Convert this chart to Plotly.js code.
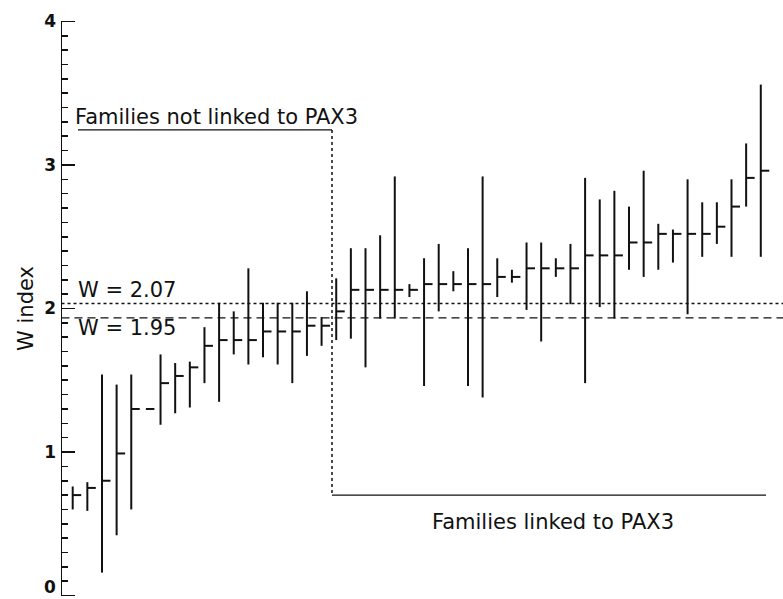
<!DOCTYPE html>
<html>
<head>
<meta charset="utf-8">
<script src="https://cdn.plot.ly/plotly-3.0.1.min.js"></script>
<style>html,body{margin:0;padding:0;background:#fff;}#chart{width:783px;height:599px;}</style>
</head>
<body>
<div id="chart"></div>
<script>
// Families ordered by W index (point estimate) with support interval
const families = [1,2,3,4,5,6,7,8,9,10,11,12,13,14,15,16,17,18,19,20,21,22,23,24,25,26,27,28,29,30,31,32,33,34,35,36,37,38,39,40,41,42,43,44,45,46,47,48];
const wMean = [0.70,0.75,0.80,0.99,1.30,1.30,1.48,1.53,1.59,1.74,1.78,1.78,1.78,1.84,1.84,1.84,1.88,1.88,1.98,2.13,2.13,2.13,2.13,2.13,2.17,2.17,2.17,2.17,2.17,2.22,2.22,2.28,2.28,2.28,2.28,2.37,2.37,2.37,2.46,2.46,2.52,2.52,2.52,2.52,2.57,2.71,2.91,2.96];
const wLow  = [0.60,0.59,0.16,0.42,0.60,1.30,1.19,1.27,1.31,1.48,1.35,1.68,1.61,1.66,1.61,1.48,1.67,1.74,1.78,1.79,1.59,1.93,1.93,2.08,1.46,1.98,2.12,1.46,1.38,2.08,2.18,1.99,1.77,2.22,2.03,1.48,2.01,1.93,2.27,2.22,2.27,2.32,1.96,2.36,2.45,2.36,2.71,2.36];
const wHigh = [0.76,0.79,1.54,1.47,1.54,1.30,1.68,1.62,1.63,1.87,2.04,1.98,2.28,2.04,2.04,2.04,2.12,1.94,2.21,2.42,2.42,2.51,2.92,2.17,2.35,2.45,2.26,2.42,2.92,2.35,2.27,2.46,2.46,2.35,2.45,2.91,2.76,2.82,2.71,2.96,2.59,2.55,2.90,2.74,2.74,2.90,3.15,3.56];
const yTicks = [0,1,2,3,4];
const yTickLabels = ['', '1','2','3','4'];   // '0' drawn as an annotation so it stays inside the picture
const yZeroLabel = '0';
const wDotted = 2.035;   // line labelled W = 2.07 (as drawn)
const wDashed = 1.935;   // line labelled W = 1.95 (as drawn)
const labelDotted = 'W = 2.07';
const labelDashed = 'W = 1.95';
const labelNotLinked = 'Families not linked to PAX3';
const labelLinked = 'Families linked to PAX3';

const ink = '#111';
const FONT = '"DejaVu Sans", Verdana, sans-serif';

// pixel helpers for layout placement (layout only, not data)
const PX0 = 72.7, PXSTEP = 14.64;
const px2x = p => 1 + (p - PX0) / PXSTEP;
const py2y = p => (595.5 - p) / 143.5;
const MT = 20.07, MB = 2.1, ML = 61, H = 599, W = 783;
const px2paper = p => (p - ML) / (W - ML);
const py2paper = p => ((H - MB) - p) / (H - MB - MT);

const rangeTrace = {
  x: families, y: wMean, type: 'scatter', mode: 'markers',
  marker: {size: 1, color: 'rgba(0,0,0,0)'},
  error_y: {type: 'data', symmetric: false,
    array: wHigh.map((h, i) => h - wMean[i]),
    arrayminus: wLow.map((l, i) => wMean[i] - l),
    color: ink, thickness: 2, width: 0},
  hoverinfo: 'skip', showlegend: false
};
const meanTrace = {
  x: families, y: wMean, type: 'scatter', mode: 'markers',
  marker: {size: 1, color: 'rgba(0,0,0,0)'},
  error_x: {type: 'constant', symmetric: false, value: 0.58, valueminus: 0,
    color: ink, thickness: 2, width: 0},
  hoverinfo: 'skip', showlegend: false
};

const xSplit = px2x(332);
const yTop = py2y(130), yBot = py2y(495);
const xLeft = px2x(61.5), xRight = px2x(783);

const layout = {
  width: W, height: H,
  margin: {l: ML, r: 0, t: MT, b: MB},
  paper_bgcolor: '#fff', plot_bgcolor: '#fff',
  showlegend: false,
  xaxis: {range: [px2x(61), px2x(783)], visible: false, fixedrange: true},
  yaxis: {range: [-0.01, 4.01], tickvals: yTicks, ticktext: yTickLabels,
    showline: false, zeroline: false, showgrid: false,
    ticks: 'inside', ticklen: 14, tickwidth: 1.6, tickcolor: ink,
    ticklabelstandoff: 4,
    tickfont: {family: FONT, size: 17, color: ink, weight: 'bold'},
    minor: {dtick: 0.1, ticks: 'inside', ticklen: 7, tickwidth: 1.6, tickcolor: ink, showgrid: false},
    title: {text: 'W index', font: {family: FONT, size: 21, color: ink}, standoff: 4}
  },
  shapes: [
    {type: 'line', xref: 'x', yref: 'y', x0: px2x(61), x1: px2x(61), y0: 0, y1: 4,
     line: {color: ink, width: 2}},
    {type: 'line', xref: 'x', yref: 'y', x0: xLeft, x1: xRight, y0: wDotted, y1: wDotted,
     line: {color: ink, width: 1.3, dash: 'dot'}},
    {type: 'line', xref: 'x', yref: 'y', x0: xLeft, x1: xRight, y0: wDashed, y1: wDashed,
     line: {color: ink, width: 1.3, dash: '8px,5px'}},
    {type: 'line', xref: 'x', yref: 'y', x0: px2x(78), x1: xSplit, y0: yTop, y1: yTop,
     line: {color: ink, width: 1.3}},
    {type: 'line', xref: 'x', yref: 'y', x0: xSplit, x1: xSplit, y0: yTop, y1: yBot,
     line: {color: ink, width: 1.5, dash: 'dot'}},
    {type: 'line', xref: 'x', yref: 'y', x0: xSplit, x1: px2x(766), y0: yBot, y1: yBot,
     line: {color: ink, width: 1.3}}
  ],
  annotations: [
    {xref: 'x', yref: 'y', x: px2x(73), y: py2y(117), text: labelNotLinked, showarrow: false,
     xanchor: 'left', yanchor: 'middle', font: {family: FONT, size: 21, color: ink}},
    {xref: 'x', yref: 'y', x: px2x(430), y: py2y(522), text: labelLinked, showarrow: false,
     xanchor: 'left', yanchor: 'middle', font: {family: FONT, size: 21, color: ink}},
    {xref: 'x', yref: 'y', x: px2x(76), y: py2y(290), text: labelDotted, showarrow: false,
     xanchor: 'left', yanchor: 'middle', font: {family: FONT, size: 21, color: ink}},
    {xref: 'x', yref: 'y', x: px2x(76), y: py2y(328), text: labelDashed, showarrow: false,
     xanchor: 'left', yanchor: 'middle', font: {family: FONT, size: 21, color: ink}},
    {xref: 'paper', yref: 'paper', x: px2paper(57.5), y: py2paper(598.5), text: yZeroLabel, showarrow: false,
     xanchor: 'right', yanchor: 'bottom', font: {family: FONT, size: 17, color: ink, weight: 'bold'}}
  ]
};

Plotly.newPlot('chart', [rangeTrace, meanTrace], layout, {displayModeBar: false, staticPlot: true});
</script>
</body>
</html>
